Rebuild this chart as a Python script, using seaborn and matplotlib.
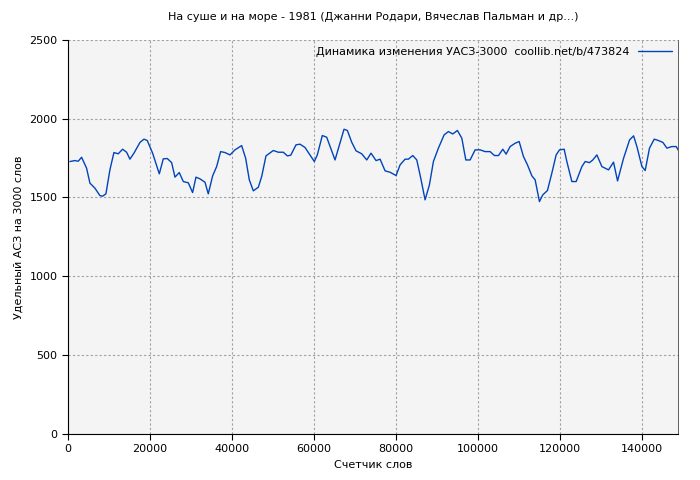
import pandas as pd
import matplotlib
matplotlib.use("Agg")
import matplotlib.pyplot as plt
import seaborn as sns

words = [490, 1700, 2520, 3340, 4550, 5370, 6590, 7800, 8450, 9270, 10240, 11220, 12270, 13330,
         14310, 15120, 16100, 17560, 18540, 19350, 20650, 22280, 23250, 24230, 25290, 26100, 27150,
         28130, 29350, 30400, 31220, 32200, 33410, 34220, 35280, 36260, 37230, 38290, 39510, 40730,
         42360, 43330, 44220, 45200, 46420, 47240, 48290, 50070, 51300, 52520, 53490, 54320, 55610,
         56590, 57810, 59020, 60070, 60800, 62020, 63090, 64060, 65120, 67310, 68130, 69180, 70240,
         71630, 72850, 73900, 75120, 76100, 77320, 78540, 80000, 80980, 82200, 83000, 84070, 85050,
         86020, 87070, 88130, 89100, 90320, 91710, 92750, 93830, 94950, 96030, 97000, 98050, 99270,
         100490, 101710, 102930, 103980, 104960, 106020, 106830, 107800, 109020, 110000, 111050,
         112030, 113110, 113900, 114950, 115780, 116900, 117970, 119020, 119840, 120980, 121630,
         122850, 123900, 125290, 126100, 127150, 127960, 128950, 130170, 131790, 133010, 133990,
         135460, 136920, 137900, 138710, 139930, 140730, 141780, 142930, 143980, 145050, 146020,
         147240, 148290, 148850]
uasz = [1728, 1734, 1730, 1755, 1686, 1591, 1559, 1512, 1508, 1523, 1675, 1785, 1777, 1806,
        1787, 1743, 1781, 1849, 1870, 1861, 1781, 1650, 1745, 1747, 1721, 1629, 1658,
        1601, 1593, 1531, 1629, 1618, 1597, 1523, 1637, 1696, 1791, 1785, 1770, 1802,
        1829, 1749, 1612, 1542, 1565, 1633, 1764, 1798, 1787, 1787, 1764, 1768, 1834,
        1838, 1817, 1770, 1728, 1770, 1893, 1882, 1813, 1738, 1933, 1925, 1851, 1796,
        1777, 1738, 1781, 1734, 1743, 1669, 1660, 1639, 1707, 1743, 1743, 1766, 1738,
        1622, 1485, 1580, 1728, 1813, 1897, 1918, 1903, 1925, 1876, 1738, 1738, 1802,
        1802, 1791, 1791, 1766, 1766, 1806, 1775, 1823, 1844, 1855, 1760,
        1707, 1637, 1612, 1474, 1517, 1544, 1654, 1770, 1802, 1806, 1728,
        1601, 1601, 1696, 1728, 1721, 1738, 1770, 1696, 1675, 1724, 1605,
        1749, 1865, 1891, 1823, 1696, 1671, 1813, 1870, 1861, 1849, 1813,
        1823, 1823, 1798]

df = pd.DataFrame({"words": words, "uasz": uasz})

sns.set_style("whitegrid")
plt.rcParams["font.family"] = ["DejaVu Sans"]
plt.rcParams["font.size"] = 8
plt.rcParams["text.color"] = "black"
plt.rcParams["axes.labelcolor"] = "black"
plt.rcParams["xtick.color"] = "black"
plt.rcParams["ytick.color"] = "black"

fig = plt.figure(figsize=(7, 4.8), dpi=100)
fig.patch.set_facecolor("white")
ax = fig.add_axes([0.097, 0.096, 0.872, 0.821])
ax.set_facecolor("#f4f4f4")

sns.lineplot(data=df, x="words", y="uasz", ax=ax, color="#0044bb", linewidth=1,
             label="Динамика изменения УАСЗ-3000  coollib.net/b/473824")

ax.set_xlim(0, 148800)
ax.set_ylim(0, 2500)
ax.set_xticks([0, 20000, 40000, 60000, 80000, 100000, 120000, 140000])
ax.set_yticks([0, 500, 1000, 1500, 2000, 2500])
ax.grid(True, color="#a0a0a0", linestyle=(0, (2, 2)), linewidth=0.8)
ax.spines["top"].set_visible(False)
ax.spines["right"].set_color("#444444")
ax.spines["right"].set_linewidth(0.6)
for s in ["left", "bottom"]:
    ax.spines[s].set_color("black")
ax.tick_params(axis="both", length=4, color="black", labelsize=8, left=True, bottom=True)

ax.set_title("На суше и на море - 1981 (Джанни Родари, Вячеслав Пальман и др...)", fontsize=8, pad=14)
ax.set_xlabel("Счетчик слов", fontsize=8)
ax.set_ylabel("Удельный АСЗ на 3000 слов", fontsize=8)
ax.legend(loc="upper right", frameon=False, markerfirst=False, fontsize=8,
          handlelength=3, borderaxespad=0.2)

fig.savefig("out.png", dpi=100)
